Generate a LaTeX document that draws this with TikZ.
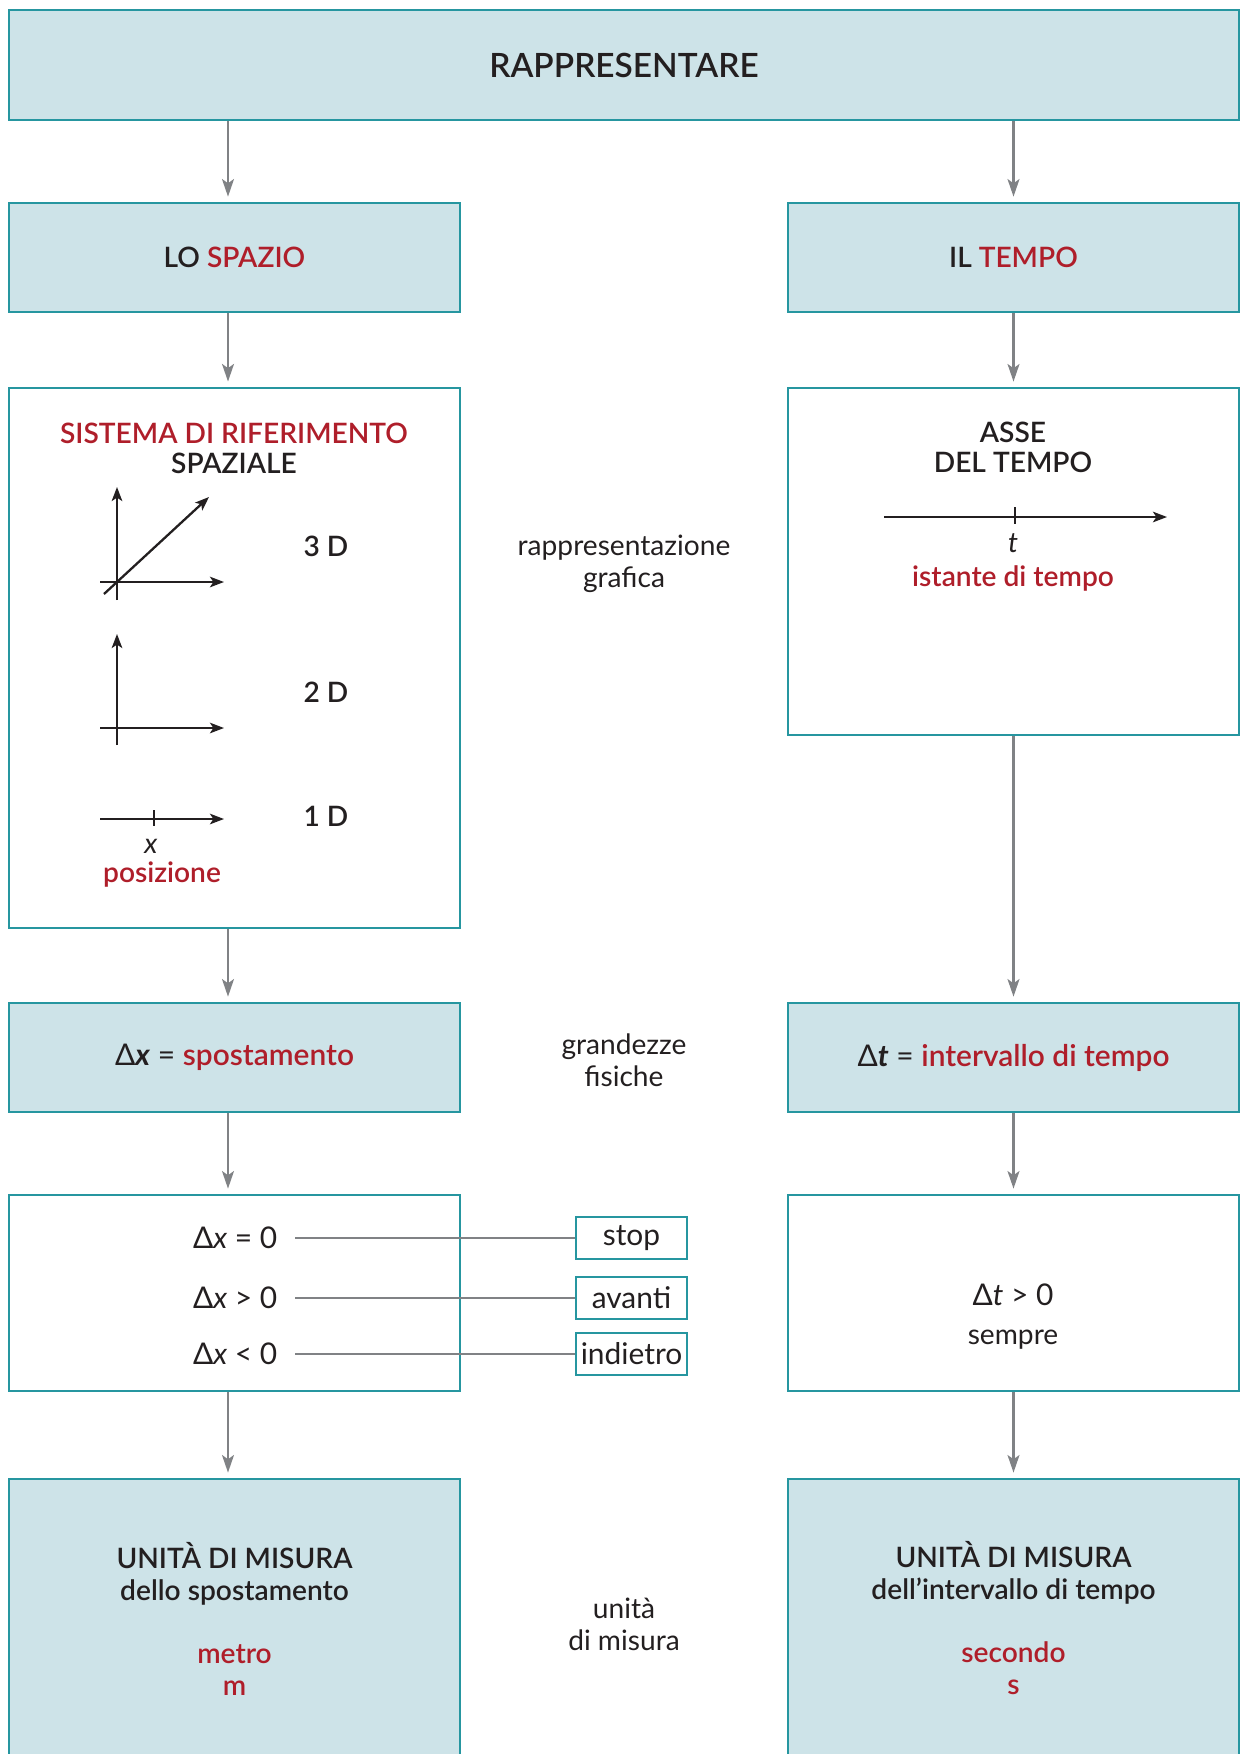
\documentclass[tikz,border=0pt]{standalone}
\usepackage{fontspec}
\setmainfont{Lato}
\IfFontExistsTF{Lato Semibold}{\newfontfamily\medfont{Lato Semibold}}{\newcommand\medfont{\bfseries}}
\usepackage{tikz}
\usetikzlibrary{arrows.meta, positioning}
\definecolor{boxfill}{RGB}{205,227,232}
\definecolor{boxline}{RGB}{38,150,160}
\definecolor{keyred}{RGB}{175,30,42}
\definecolor{linkgray}{RGB}{128,130,133}
\definecolor{ink}{RGB}{35,31,32}
\newcommand\hl[1]{\textcolor{keyred}{#1}}
\tikzset{>={Stealth[length=5pt,width=3.4pt,inset=1.2pt]}}
\tikzset{
  box/.style={draw=boxline, line width=0.6pt, minimum width=4.51cm, inner sep=0pt, align=center, text=ink},
  headbox/.style={box, fill=boxfill, font=\medfont\fontsize{8}{9.1}\selectfont},
  plainbox/.style={box, fill=white},
  tag/.style={draw=boxline, line width=0.6pt, fill=white, text=ink, minimum width=1.11cm, minimum height=0.42cm, inner sep=0pt, font=\fontsize{8.5}{9}\selectfont},
  link/.style={draw=linkgray, line width=0.6pt, ->, shorten >=1.5pt},
  tagline/.style={draw=linkgray, line width=0.75pt},
  axis/.style={draw=ink, line width=0.65pt, -{Stealth[length=4pt,width=3pt,inset=1pt]}},
  lab/.style={text=ink, align=center, inner sep=0pt, font=\medfont\fontsize{8}{8.6}\selectfont},
  side/.style={text=ink, align=center, inner sep=0pt, font=\fontsize{8}{9.1}\selectfont},
  cond/.style={text=ink, anchor=east, inner xsep=0.17cm, inner ysep=0pt, font=\fontsize{8.5}{9}\selectfont}
}

\begin{document}
\begin{tikzpicture}[x=0.01cm, y=-0.01cm]
\useasboundingbox (0,0) rectangle (1241,1754);

\node[headbox, minimum width=12.30cm, minimum height=1.10cm, font=\medfont\fontsize{9.5}{11}\selectfont] (top) at (624,65) {RAPPRESENTARE};
\node[headbox, minimum height=1.09cm] (spazio) at (234.5,257.5) {LO \hl{SPAZIO}};
\node[headbox, minimum height=1.09cm] (tempo) at (1013.5,257.5) {IL \hl{TEMPO}};

\node[plainbox, minimum height=5.40cm] (sistema) at (234.5,658) {};
\node[plainbox, minimum height=3.47cm] (asse) at (1013.5,561.5) {};

\node[headbox, minimum height=1.09cm, font=\fontsize{8.5}{9.1}\selectfont] (dx) at (234.5,1057.5) {Δ\textbf{\textit{x}} = \hl{\medfont spostamento}};
\node[headbox, minimum height=1.09cm, font=\fontsize{8.5}{9.1}\selectfont] (dt) at (1013.5,1057.5) {Δ\textbf{\textit{t}} = \hl{\medfont intervallo di tempo}};

\node[plainbox, minimum height=1.96cm] (condbox) at (234.5,1293) {};
\node[plainbox, minimum height=1.96cm] (sempre) at (1013.5,1293) {};

\node[headbox, minimum height=2.79cm] (umx) at (234.5,1618.5) {UNITÀ DI MISURA\\dello spostamento\\[8.8pt]\hl{metro}\\\hl{m}};
\node[headbox, minimum height=2.79cm] (umt) at (1013.5,1618.5) {UNITÀ DI MISURA\\dell’intervallo di tempo\\[8.8pt]\hl{secondo}\\\hl{s}};

% spazio
\node[lab] (sistlab) at (234,448) {\hl{SISTEMA DI RIFERIMENTO}\\SPAZIALE};
\draw[axis] (117,600) -- (117,487);
\draw[axis] (100,582) -- (224,582);
\draw[axis] (104,594) -- (209,497);
\node[lab] (d3) at (326,546) {3 D};
\draw[axis] (117,745) -- (117,634);
\draw[axis] (100,728) -- (224,728);
\node[lab] (d2) at (326,692) {2 D};
\draw[axis] (100,819) -- (224,819);
\draw[ink, line width=0.7pt] (154,810) -- (154,826);
\node[side, font=\itshape\fontsize{8}{9}\selectfont] (xpos) at (151,846) {x};
\node[lab] (pos) at (162,875) {\hl{posizione}};
\node[lab] (d1) at (326,816) {1 D};

% tempo
\node[lab] (asselab) at (1013,447) {ASSE\\DEL TEMPO};
\draw[axis] (884,517) -- (1167,517);
\draw[ink, line width=0.7pt] (1015,507) -- (1015,524);
\node[side, font=\itshape\fontsize{8}{9}\selectfont] (tpos) at (1013,543) {t};
\node[lab] (ist) at (1013,578) {\hl{istante di tempo}};

% colonna centrale
\node[side] (graf) at (624,564) {rappresentazione\\grafica};
\node[side] (grand) at (624,1060) {grandezze\\fisiche};
\node[side] (unit) at (624,1624) {unità\\di misura};

% segno di Delta x
\foreach \rel/\word/\yy [count=\i] in {=/stop/1238, >/avanti/1298, </indietro/1354}{
  \node[cond] (c\i) at (295,\yy) {Δ\textit{x} \rel{} 0};
  \node[tag] (k\i) at (631.5,\yy) {\word};
  \draw[tagline] (c\i.east) -- (k\i.west);
}
\node[side, font=\fontsize{8.5}{9}\selectfont] (dtpos) at (1013,1295) {Δ\textit{t} > 0};
\node[side] (semp) at (1013,1340) {sempre};

\coordinate (lcol) at (228,0);
\draw[link] (lcol |- top.south) -- (lcol |- spazio.north);
\draw[link] (top.south -| tempo.north) -- (tempo.north);
\draw[link] (lcol |- spazio.south) -- (lcol |- sistema.north);
\draw[link] (tempo) -- (asse);
\draw[link] (lcol |- sistema.south) -- (lcol |- dx.north);
\draw[link] (asse) -- (dt);
\draw[link] (lcol |- dx.south) -- (lcol |- condbox.north);
\draw[link] (dt) -- (sempre);
\draw[link] (lcol |- condbox.south) -- (lcol |- umx.north);
\draw[link] (sempre) -- (umt);
\end{tikzpicture}
\end{document}
